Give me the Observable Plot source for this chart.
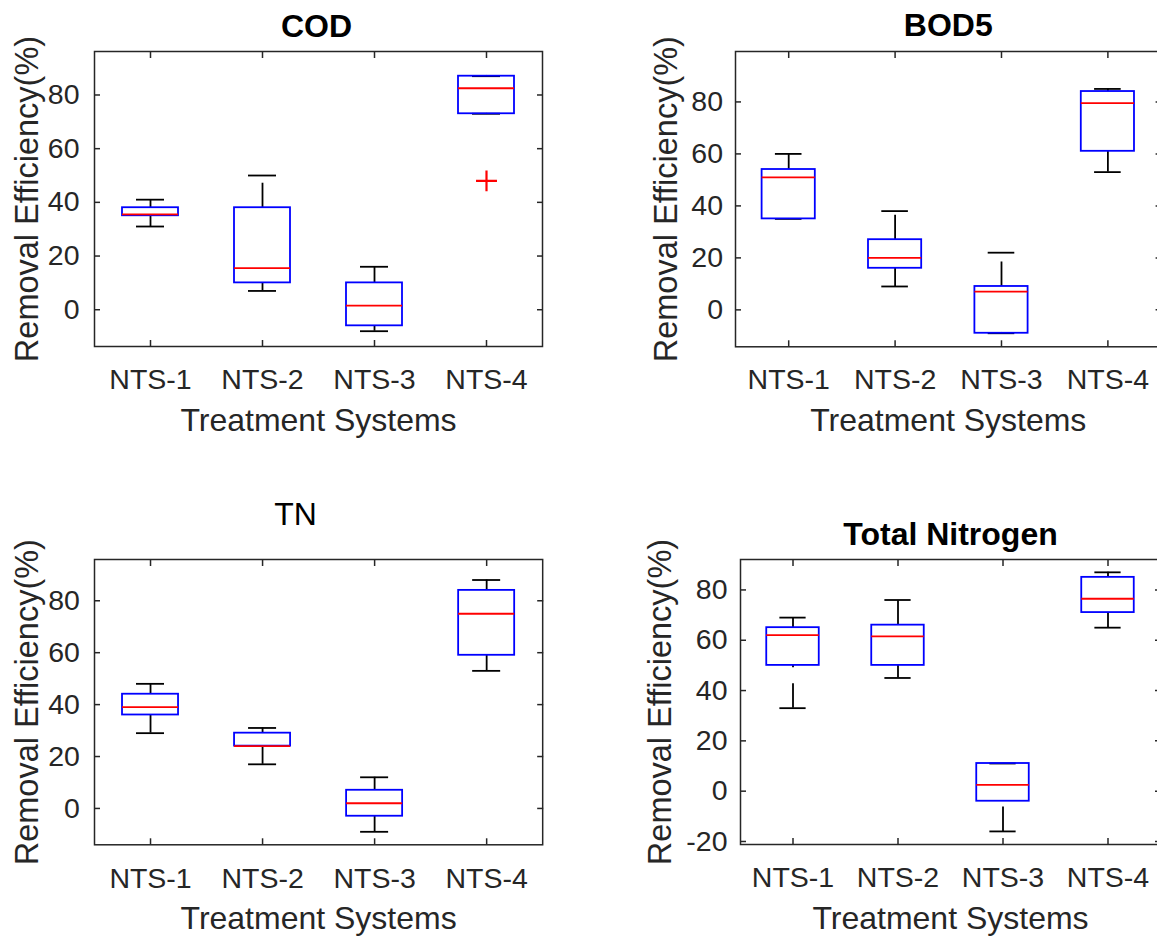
<!DOCTYPE html>
<html><head><meta charset="utf-8">
<script src="https://cdn.jsdelivr.net/npm/d3@7"></script>
<script src="https://cdn.jsdelivr.net/npm/@observablehq/plot@0.6"></script>
<style>
body{margin:0;background:#fff;}
#chart{position:relative;width:1157px;height:936px;overflow:hidden;background:#fff;}
#chart svg{position:absolute;overflow:visible;}
</style></head><body><div id="chart"></div>
<script>
// ---- data ----
const categories = ["NTS-1", "NTS-2", "NTS-3", "NTS-4"];
const xLabel = "Treatment Systems";
const yLabel = "Removal Efficiency(%)";
const yTicksA = [0, 20, 40, 60, 80];
const yTicksB = [-20, 0, 20, 40, 60, 80];

// COD
const codMin = [31, 7, -8, 73];
const codQ1  = [35, 10, -6, 73];
const codMed = [35.5, 15.5, 1.5, 82.5];
const codQ3  = [38, 38, 10, 87];
const codMax = [41, 50, 16, 87];
const codOutlierCat = ["NTS-4"];
const codOutlierVal = [48];

// BOD5
const bodMin = [35, 9, -9, 53];
const bodQ1  = [35, 16, -9, 61];
const bodMed = [51, 20, 7, 79.5];
const bodQ3  = [54, 27, 9, 84];
const bodMax = [60, 38, 22, 85];

// TN
const tnMin = [29, 17, -9, 53];
const tnQ1  = [36, 24, -3, 59];
const tnMed = [39, 24, 2, 75];
const tnQ3  = [44, 29, 7, 84];
const tnMax = [48, 31, 12, 88];

// Total Nitrogen
const totMin = [33, 45, -16, 65];
const totQ1  = [50, 50, -4, 71];
const totMed = [62, 61.5, 2.5, 76.5];
const totQ3  = [65, 66, 11, 85];
const totMax = [69, 76, 11, 87];

// ---- drawing ----
const FONT = "'Liberation Sans', Arial, Helvetica, sans-serif";
const chart = document.getElementById("chart");

function panel(o) {
  const mL = 110, mT = 70, mR = 10, mB = 100;
  const rows = categories.map((c, i) => ({i: i + 1, min: o.min[i], q1: o.q1[i], med: o.med[i], q3: o.q3[i], max: o.max[i]}));
  const outs = (o.outCat || []).map((c, j) => ({i: categories.indexOf(c) + 1, v: o.outVal[j]}));
  const hw = 0.25, cw = 0.125;
  const lw = 1.8;
  const dash = "24.5,16";
  const svg = Plot.plot({
    width: mL + o.frame.w + mR,
    height: mT + o.frame.h + mB,
    marginLeft: mL, marginTop: mT, marginRight: mR, marginBottom: mB,
    style: {background: "transparent", fontFamily: FONT, color: "#262626", overflow: "visible"},
    x: {domain: [0.5, 4.5]},
    y: {domain: o.yDomain},
    marks: [
      // whiskers (dashed, drawn from the lower value upward)
      Plot.ruleX(rows, {x: "i", y1: "q3", y2: "max", stroke: "black", strokeWidth: lw, strokeDasharray: dash}),
      Plot.ruleX(rows, {x: "i", y1: "min", y2: "q1", stroke: "black", strokeWidth: lw, strokeDasharray: dash}),
      Plot.ruleY(rows, {y: "max", x1: d => d.i - cw, x2: d => d.i + cw, stroke: "black", strokeWidth: lw}),
      Plot.ruleY(rows, {y: "min", x1: d => d.i - cw, x2: d => d.i + cw, stroke: "black", strokeWidth: lw}),
      // boxes
      Plot.rect(rows, {x1: d => d.i - hw, x2: d => d.i + hw, y1: "q1", y2: "q3", fill: "none", stroke: "#0000ff", strokeWidth: lw}),
      // medians
      Plot.ruleY(rows, {y: "med", x1: d => d.i - hw, x2: d => d.i + hw, stroke: "#ff0000", strokeWidth: lw}),
      // outliers
      Plot.dot(outs, {x: "i", y: "v", symbol: "plus", r: 6.8, stroke: "#ff0000", strokeWidth: 2.2}),
      // frame and axes
      Plot.frame({stroke: "#262626", strokeWidth: 1.5}),
      Plot.axisX({anchor: "bottom", ticks: [1, 2, 3, 4], tickFormat: i => categories[i - 1], tickSize: -6, tickPadding: o.xTickGap + 6, fontSize: 28.5, label: null, stroke: "#262626", strokeWidth: 1.5}),
      Plot.axisX({anchor: "top", ticks: [1, 2, 3, 4], tickSize: -6, fill: "none", label: null, stroke: "#262626", strokeWidth: 1.5}),
      Plot.axisY({anchor: "left", ticks: o.yTicks, tickFormat: d => String(d), tickSize: -6, tickPadding: o.yTickGap + 6, fontSize: 28.5, label: null, stroke: "#262626", strokeWidth: 1.5}),
      Plot.axisY({anchor: "right", ticks: o.yTicks, tickSize: -6, fill: "none", label: null, stroke: "#262626", strokeWidth: 1.5}),
      // labels
      Plot.text([xLabel], {text: d => d, frameAnchor: "bottom", dy: o.xLabelBaseline, lineAnchor: "bottom", fontSize: 32, fill: "#262626"}),
      Plot.text([yLabel], {text: d => d, frameAnchor: "left", textAnchor: "middle", dx: -o.yLabelOffset, rotate: -90, lineAnchor: "top", fontSize: 32.5, fill: "#262626"}),
      Plot.text([o.title], {text: d => d, frameAnchor: "top", dx: o.titleDx || 0, dy: o.titleBaseline - o.frame.y, lineAnchor: "bottom", fontSize: 32, fontWeight: o.bold ? "bold" : "normal", fill: "#000"})
    ]
  });
  svg.style.left = (o.frame.x - mL) + "px";
  svg.style.top = (o.frame.y - mT) + "px";
  chart.appendChild(svg);
}

panel({title: "COD", bold: true, titleBaseline: 36.5, titleDx: -2,
  min: codMin, q1: codQ1, med: codMed, q3: codQ3, max: codMax, outCat: codOutlierCat, outVal: codOutlierVal,
  yTicks: yTicksA, yDomain: [-13.7, 96.2], frame: {x: 94.3, y: 50.7, w: 448, h: 295},
  yTickGap: 15, yLabelOffset: 80, xTickGap: 22, xLabelBaseline: 84});

panel({title: "BOD5", bold: true, titleBaseline: 35,
  min: bodMin, q1: bodQ1, med: bodMed, q3: bodQ3, max: bodMax,
  yTicks: yTicksA, yDomain: [-14.2, 99.4], frame: {x: 734.8, y: 50.7, w: 425.6, h: 295.3},
  yTickGap: 12.5, yLabelOffset: 81.6, xTickGap: 22, xLabelBaseline: 84});

panel({title: "TN", bold: false, titleBaseline: 525, titleDx: -23,
  min: tnMin, q1: tnQ1, med: tnMed, q3: tnQ3, max: tnMax,
  yTicks: yTicksA, yDomain: [-14.0, 95.9], frame: {x: 93.8, y: 559, w: 448.2, h: 285.3},
  yTickGap: 14.6, yLabelOffset: 79.5, xTickGap: 23, xLabelBaseline: 84});

panel({title: "Total Nitrogen", bold: true, titleBaseline: 545,
  min: totMin, q1: totQ1, med: totMed, q3: totQ3, max: totMax,
  yTicks: yTicksB, yDomain: [-21.2, 92.1], frame: {x: 740.1, y: 559.3, w: 420, h: 285},
  yTickGap: 13, yLabelOffset: 92.2, xTickGap: 22.4, xLabelBaseline: 84});
</script></body></html>
